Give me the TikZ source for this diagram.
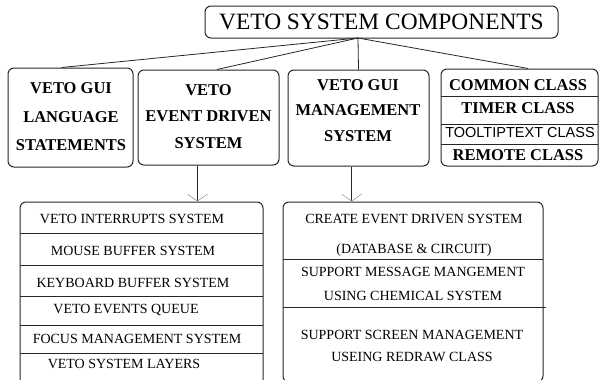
\documentclass[tikz,border=0pt]{standalone}
\usepackage{fontspec}
\setmainfont{Liberation Serif}
\newfontfamily\tipfont{Liberation Sans}
\usetikzlibrary{arrows.meta}

\begin{document}
\begin{tikzpicture}[x=1pt,y=1pt,
    kasten/.style={draw=black!85, line width=1pt, rounded corners=6pt, inner sep=0pt},
    haupt/.style={align=center, font=\fontsize{16.5}{28.5}\selectfont\bfseries},
    klasse/.style={font=\fontsize{16.5}{20}\selectfont\bfseries},
    zeile/.style={font=\fontsize{14}{17}\selectfont},
    trenn/.style={draw=black!85, line width=0.8pt},
    pfeil/.style={draw=black!85, line width=0.8pt},
    spitze/.style={-{Straight Barb[length=7pt, width=20pt, line width=0.6pt, black!40]}},
]
\useasboundingbox (0,0) rectangle (600,-380);

\node[kasten, minimum width=353, minimum height=32, font=\fontsize{23.4}{26}\selectfont] (titel) at (381.5,-22){VETO SYSTEM COMPONENTS};
\coordinate (hub) at (358,-38);

\node[kasten, minimum width=125, minimum height=99] (gui) at (70.5,-117.5){};
\node[kasten, minimum width=141, minimum height=95] (evt) at (208.5,-117.5){};
\node[kasten, minimum width=141, minimum height=96] (mgmt) at (358.5,-118){};
\node[kasten, minimum width=157, minimum height=97] (klassen) at (519.5,-117.5){};

\node[haupt] (guitxt) at (71,-117){VETO GUI\\LANGUAGE\\STATEMENTS};
\node[haupt, font=\fontsize{16.5}{26.5}\selectfont\bfseries] (evttxt) at (208.5,-116.5){VETO\\EVENT DRIVEN\\SYSTEM};
\node[haupt, font=\fontsize{16.5}{25.5}\selectfont\bfseries] (mgmttxt) at (358,-110.5){VETO GUI\\MANAGEMENT\\SYSTEM};

\foreach \y in {96,124,144} \draw[trenn] (441,-\y) -- (598,-\y);
\node[klasse] (common) at (518,-85){COMMON CLASS};
\node[klasse] (timer) at (518,-108.5){TIMER CLASS};
\node[font=\fontsize{14.5}{17}\selectfont\tipfont] (tooltip) at (520,-132.5){TOOLTIPTEXT CLASS};
\node[klasse] (remote) at (518,-155){REMOTE CLASS};

\draw[pfeil] (hub) -- (gui.100);
\draw[pfeil] (hub) -- (evt.80);
\draw[pfeil] (hub) -- (mgmt.north);
\draw[pfeil] (hub) -- (klassen.80);

\node[kasten, minimum width=243, minimum height=184] (ereig) at (141.5,-294){};
\node[kasten, minimum width=260, minimum height=180] (unter) at (413,-292){};

\draw[pfeil,spitze] (evt.257) -- (evt.257 |- ereig.north);
\draw[pfeil,spitze] (mgmt.262) -- (mgmt.262 |- unter.north);

\foreach \y in {233,265,296,325,353} \draw[trenn] (20,-\y) -- (263,-\y);
\node[zeile] (interr) at (132,-219){VETO INTERRUPTS SYSTEM};
\node[zeile] (maus) at (133,-251){MOUSE BUFFER SYSTEM};
\node[zeile] (tast) at (133,-283){KEYBOARD BUFFER SYSTEM};
\node[zeile] (queue) at (126,-310){VETO EVENTS QUEUE};
\node[zeile] (fokus) at (137,-339){FOCUS MANAGEMENT SYSTEM};
\node[zeile] (layer) at (124,-364){VETO SYSTEM LAYERS};

\draw[trenn] (283,-259) -- (543,-259);
\draw[trenn] (283,-307) -- (546,-307);
\node[zeile, align=center, font=\fontsize{14}{30}\selectfont] (create) at (414,-235){CREATE EVENT DRIVEN SYSTEM\\(DATABASE \& CIRCUIT)};
\node[zeile, align=center, font=\fontsize{14}{24}\selectfont] (nachr) at (413,-284){SUPPORT MESSAGE MANGEMENT\\USING CHEMICAL SYSTEM};
\node[zeile, align=center, font=\fontsize{14}{22}\selectfont] (schirm) at (412,-346){SUPPORT SCREEN MANAGEMENT\\USEING REDRAW CLASS};

\end{tikzpicture}
\end{document}
